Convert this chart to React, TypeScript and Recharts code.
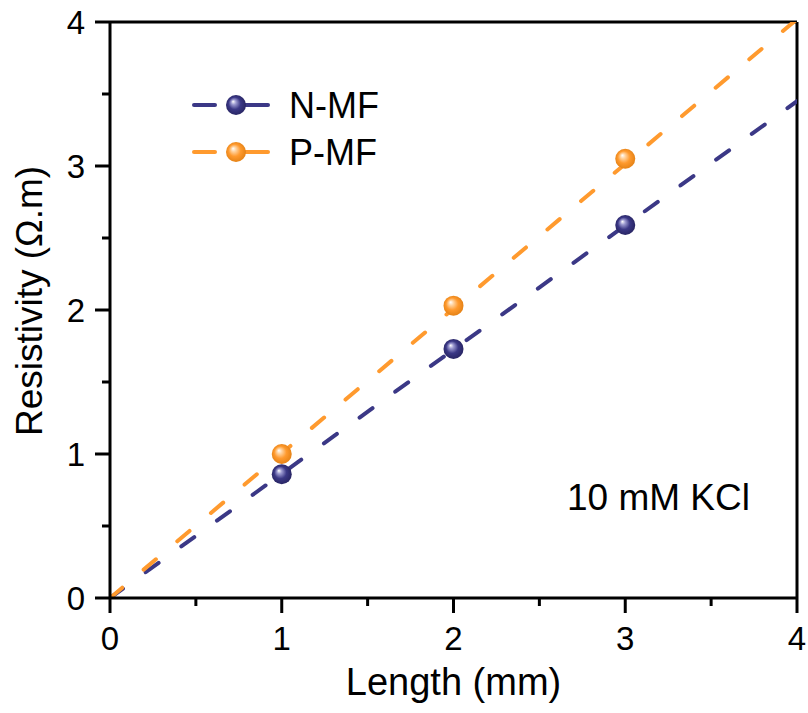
import React from "react";
import {
  ComposedChart, Line, Scatter, XAxis, YAxis, ReferenceLine, Label, Legend,
} from "recharts";

const LENGTH = [1, 2, 3];
const N_MF = [0.86, 1.73, 2.59];
const P_MF = [1.0, 2.03, 3.05];
const FIT_X = [0, 4];
const N_FIT = [0, 3.45];
const P_FIT = [0, 4.02];
const TICKS = [0, 0.5, 1, 1.5, 2, 2.5, 3, 3.5, 4];

const NAVY = "#3b3886";
const ORANGE = "#ff9a2e";
const FONT = "'Liberation Sans', Arial, sans-serif";

const nPoints = LENGTH.map((x, i) => ({ x, y: N_MF[i] }));
const pPoints = LENGTH.map((x, i) => ({ x, y: P_MF[i] }));
const nFit = FIT_X.map((x, i) => ({ x, y: N_FIT[i] }));
const pFit = FIT_X.map((x, i) => ({ x, y: P_FIT[i] }));

const SHADES: Record<string, { light: string; dark: string }> = {
  [NAVY]: { light: "#9c9ad0", dark: "#25225e" },
  [ORANGE]: { light: "#ffd3a0", dark: "#e07e12" },
};

function Ball({ cx, cy, color, r = 10 }: { cx: number; cy: number; color: string; r?: number }) {
  const id = `ball-${color.slice(1)}`;
  const s = SHADES[color];
  return (
    <g>
      <defs>
        <radialGradient id={id} cx="50%" cy="50%" r="55%" fx="35%" fy="32%">
          <stop offset="0%" stopColor="#ffffff" />
          <stop offset="22%" stopColor={s.light} />
          <stop offset="55%" stopColor={color} />
          <stop offset="100%" stopColor={s.dark} />
        </radialGradient>
      </defs>
      <circle cx={cx} cy={cy} r={r} fill={`url(#${id})`} />
    </g>
  );
}

function XTick(props: any) {
  const { x, y, payload } = props;
  const major = Number.isInteger(payload.value);
  return (
    <g>
      <line x1={x} x2={x} y1={y} y2={y + (major ? 15 : 8)} stroke="#000" strokeWidth={3} />
      {major && (
        <text x={x} y={y + 52} textAnchor="middle" fontSize={33} fontFamily={FONT} fill="#000">
          {payload.value}
        </text>
      )}
    </g>
  );
}

function YTick(props: any) {
  const { x, y, payload } = props;
  const major = Number.isInteger(payload.value);
  return (
    <g>
      <line x1={x - (major ? 15 : 8)} x2={x} y1={y} y2={y} stroke="#000" strokeWidth={3} />
      {major && (
        <text x={x - 25} y={y + 12} textAnchor="end" fontSize={33} fontFamily={FONT} fill="#000">
          {payload.value}
        </text>
      )}
    </g>
  );
}

function LegendBox({ payload }: any) {
  const items = (payload || []).filter((p: any) => p.type !== "none");
  return (
    <svg width={260} height={110} style={{ display: "block", overflow: "visible" }}>
      {items.map((p: any, i: number) => {
        const color = p.value === "N-MF" ? NAVY : ORANGE;
        const cy = 25 + i * 47;
        return (
          <g key={p.value}>
            <line x1={6} x2={27} y1={cy} y2={cy} stroke={color} strokeWidth={4} strokeLinecap="round" />
            <line x1={48} x2={80} y1={cy} y2={cy} stroke={color} strokeWidth={4} strokeLinecap="round" />
            <Ball cx={48} cy={cy} color={color} />
            <text x={101} y={cy + 13} fontSize={36} fontFamily={FONT} fill="#000">{p.value}</text>
          </g>
        );
      })}
    </svg>
  );
}

export default function App() {
  return (
    <div style={{ position: "absolute", left: 0, top: 0, background: "#fff" }}>
      <ComposedChart width={808} height={713} margin={{ top: 22, right: 11, left: 0, bottom: 0 }}>
        <XAxis
          dataKey="x" type="number" domain={[0, 4]} ticks={TICKS} allowDataOverflow
          height={115} tickSize={0} tickMargin={0} tickLine={false}
          axisLine={{ stroke: "#000", strokeWidth: 3 }} tick={<XTick />} interval={0}
        >
          <Label value="Length (mm)" position="insideBottom" offset={18} fontSize={38} fontFamily={FONT} fill="#000" />
        </XAxis>
        <YAxis
          dataKey="y" type="number" domain={[0, 4]} ticks={TICKS} allowDataOverflow
          width={110} tickSize={0} tickMargin={0} tickLine={false}
          axisLine={{ stroke: "#000", strokeWidth: 3 }} tick={<YTick />} interval={0}
        >
          <Label
            content={(p: any) => {
              const vb = p.viewBox;
              const cy = vb.y + vb.height / 2 - 9;
              return (
                <text x={42} y={cy} transform={`rotate(-90, 42, ${cy})`} textAnchor="middle"
                  fontSize={37} fontFamily={FONT} fill="#000">
                  Resistivity (Ω.m)
                </text>
              );
            }}
          />
        </YAxis>
        <ReferenceLine y={4} stroke="#000" strokeWidth={3} />
        <ReferenceLine x={4} stroke="#000" strokeWidth={3} />
        <Line data={nFit} dataKey="y" stroke={NAVY} strokeWidth={4} strokeDasharray="16 28"
          strokeLinecap="round" dot={false} legendType="none" isAnimationActive={false} />
        <Line data={pFit} dataKey="y" stroke={ORANGE} strokeWidth={4} strokeDasharray="16 28"
          strokeLinecap="round" dot={false} legendType="none" isAnimationActive={false} />
        <Scatter name="N-MF" data={nPoints} fill={NAVY} isAnimationActive={false}
          shape={(p: any) => <Ball cx={p.cx} cy={p.cy} color={NAVY} />} />
        <Scatter name="P-MF" data={pPoints} fill={ORANGE} isAnimationActive={false}
          shape={(p: any) => <Ball cx={p.cx} cy={p.cy} color={ORANGE} />} />
        <Legend layout="vertical" verticalAlign="middle" align="center" content={<LegendBox />}
          wrapperStyle={{ left: 188, top: 80, width: 260, height: 110 }} />
        <text x={567} y={510} fontSize={37} fontFamily={FONT} fill="#000">10 mM KCl</text>
      </ComposedChart>
    </div>
  );
}
